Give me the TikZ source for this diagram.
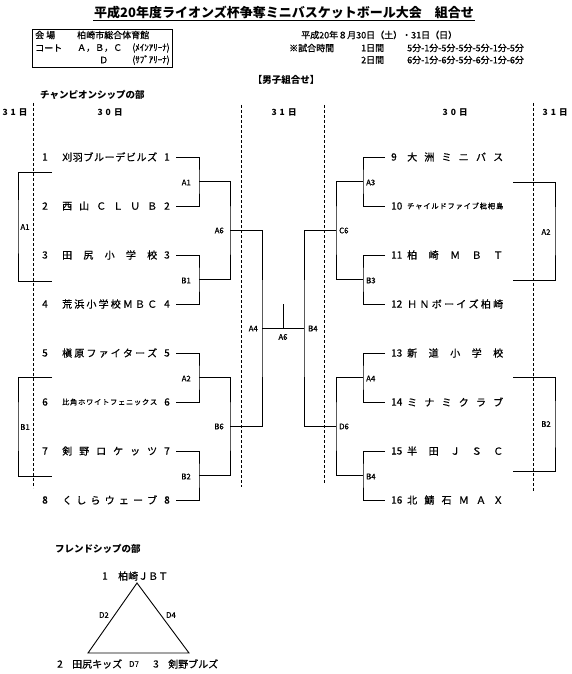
\documentclass[tikz,border=0pt]{standalone}
\usepackage{fontspec}
\setmainfont{Noto Sans CJK JP}
\newfontfamily\gothic{Noto Sans CJK JP}[FakeBold=0.8]
\usetikzlibrary{calc}

\newcommand\teamfont{\gothic\fontsize{10}{12}\selectfont}
\newcommand\tinyteam{\fontsize{7.2}{8}\selectfont}
\newcommand\codefont{\gothic\fontsize{7.8}{9}\selectfont}
\newcommand\infofont{\gothic\fontsize{9}{11}\selectfont}
\newcommand\spread[2][95pt]{{\spaceskip=0pt plus 1fil\makebox[#1][s]{#2}}}

\begin{document}
\begin{tikzpicture}[x=1pt,y=-1pt,
  team/.style={anchor=west,inner sep=0pt,font=\teamfont},
  num/.style={inner sep=0pt,font=\teamfont},
  code/.style={inner sep=0pt,font=\codefont},
  info/.style={anchor=west,inner sep=0pt,font=\infofont},
  head/.style={anchor=west,inner sep=0pt,font=\fontsize{9.5}{11}\selectfont\bfseries},
  day/.style={inner sep=0pt,font=\fontsize{8.5}{10}\selectfont\bfseries},
  dayline/.style={line width=0.7pt,dash pattern=on 3pt off 2pt},
  bracket/.style={line width=0.9pt}]
\useasboundingbox (0,0) rectangle (572,674);

% title, venue and times
\node[inner sep=1pt,font=\fontsize{13}{15}\selectfont\bfseries] (title) at (284,13)
  {平成20年度ライオンズ杯争奪ミニバスケットボール大会　組合せ};
\draw[line width=0.8pt] (title.south west) -- (title.south east);

\draw[line width=0.7pt] (32,29) rectangle (172,67);
\node[info] (hall) at (35,35) {会\ 場};
\node[info] (hallname) at (77,35) {柏崎市総合体育館};
\node[info] (court) at (35,48) {コート};
\node[info] (courtabc) at (77,48) {Ａ，Ｂ，Ｃ};
\node[info,anchor=east] (main) at (170,48) {(ﾒｲﾝｱﾘｰﾅ)};
\node[info] (courtd) at (99,60) {Ｄ};
\node[info,anchor=east] (sub) at (170,60) {(ｻﾌﾞｱﾘｰﾅ)};

\node[info] (date) at (301,35) {平成20年８月30日（土）・31日（日）};
\node[info] (timing) at (289,48) {※試合時間};
\node[info] (day1) at (361,48) {1日間};
\node[info] (time1) at (407,48) {5分-1分-5分-5分-5分-1分-5分};
\node[info] (day2) at (361,60) {2日間};
\node[info] (time2) at (407,60) {6分-1分-6分-5分-6分-1分-6分};

\node[head,anchor=center] (boys) at (286,80) {【男子組合せ】};
\node[head] (champ) at (40,95) {チャンピオンシップの部};

% days
\node[day] (d31a) at (15,112) {\makebox[25pt][s]{3 1 日}};
\node[day] (d30a) at (110,112) {\makebox[25pt][s]{3 0 日}};
\node[day] (d31b) at (284,112) {\makebox[25pt][s]{3 1 日}};
\node[day] (d30b) at (455,112) {\makebox[25pt][s]{3 0 日}};
\node[day] (d31c) at (555,112) {\makebox[25pt][s]{3 1 日}};
\draw[dayline] (33,103) -- (33,488);
\draw[dayline] (241,105) -- (241,487);
\draw[dayline] (324,105) -- (324,483);
\draw[dayline] (533,103) -- (533,492);

% teams
\foreach \name [count=\i] in {刈 羽 ブ ル ー デ ビ ル ズ, 西 山 Ｃ Ｌ Ｕ Ｂ, 田 尻 小 学 校,
    荒 浜 小 学 校 Ｍ Ｂ Ｃ, 槇 原 フ ァ イ タ ー ズ, \tinyteam 比 角 ホ ワ イ ト フ ェ ニ ッ ク ス,
    剣 野 ロ ケ ッ ツ, く し ら ウ ェ ー ブ} {
  \pgfmathsetmacro\y{108+49*\i}
  \node[num] (ln\i) at (45,\y) {\i};
  \node[team] (lt\i) at (62,\y) {\spread{\name}};
  \node[num] (le\i) at (167,\y) {\i};
  \coordinate (lx\i) at (176,\y);
}
\foreach \name [count=\i from 9] in {大 洲 ミ ニ バ ス, \tinyteam チ ャ イ ル ド フ ァ イ ブ 枇 杷 島,
    柏 崎 Ｍ Ｂ Ｔ, Ｈ Ｎ ボ ー イ ズ 柏 崎, 新 道 小 学 校, ミ ナ ミ ク ラ ブ,
    半 田 Ｊ Ｓ Ｃ, 北 鯖 石 Ｍ Ａ Ｘ} {
  \pgfmathsetmacro\y{108+49*(\i-8)}
  \node[num,anchor=west] (rn\i) at (391,\y) {\i};
  \node[team] (rt\i) at (407,\y) {\spread[96pt]{\name}};
  \coordinate (rx\i) at (385,\y);
}

% championship brackets
\foreach \k/\a/\b/\y in {1/1/2/181.5,2/3/4/279.5,3/5/6/377.5,4/7/8/475.5} {
  \coordinate (m\k) at (199,\y);
  \draw[bracket] (lx\a) -| (m\k) |- (lx\b);
}
\foreach \k/\a/\b/\y in {1/9/10/181.5,2/11/12/279.5,3/13/14/377.5,4/15/16/475.5} {
  \coordinate (r\k) at (363,\y);
  \draw[bracket] (rx\a) -| (r\k) |- (rx\b);
}
\coordinate (s1) at (230,230.5);
\coordinate (s2) at (230,426.5);
\coordinate (t1) at (336,230.5);
\coordinate (t2) at (336,426.5);
\draw[bracket] (m1) -| (s1) |- (m2);
\draw[bracket] (m3) -| (s2) |- (m4);
\draw[bracket] (r1) -| (t1) |- (r2);
\draw[bracket] (r3) -| (t2) |- (r4);
\coordinate (fl) at (262,328.5);
\coordinate (fr) at (304,328.5);
\draw[bracket] (s1) -| (fl) |- (s2);
\draw[bracket] (t1) -| (fr) |- (t2);
\draw[bracket] (fl) -- (fr);
\coordinate (tick) at (283,304);
\draw[bracket] (tick) -- (tick |- fl);

\foreach \k/\c in {1/A1,2/B1,3/A2,4/B2}
  \node[code,anchor=east] (lc\k) at ([xshift=-8pt,yshift=-1pt]m\k) {\c};
\foreach \k/\c in {1/A3,2/B3,3/A4,4/B4}
  \node[code,anchor=west] (rc\k) at ([xshift=3pt,yshift=-1pt]r\k) {\c};
\node[code,anchor=east] (ls1) at ([xshift=-6pt]s1) {A6};
\node[code,anchor=east] (ls2) at ([xshift=-6pt]s2) {B6};
\node[code,anchor=west] (rs1) at ([xshift=3pt]t1) {C6};
\node[code,anchor=west] (rs2) at ([xshift=3pt]t2) {D6};
\node[code,anchor=east] (lf) at ([xshift=-4pt]fl) {A4};
\node[code,anchor=west] (rf) at ([xshift=4pt]fr) {B4};
\node[code] (final) at (283,337) {A6};

% day 31 play-offs
\coordinate (oA1) at (18,226.5);
\coordinate (oB1) at (18,426.5);
\coordinate (oA2) at (555,231);
\coordinate (oB2) at (555,424);
\draw[bracket] (52,172) -| (oA1) |- (52,281);
\draw[bracket] (52,377) -| (oB1) |- (52,476);
\draw[bracket] (513,182) -| (oA2) |- (513,280);
\draw[bracket] (513,377) -| (oB2) |- (513,471);
\node[code] (cA1) at (25,227) {A1};
\node[code] (cB1) at (25,427) {B1};
\node[code] (cA2) at (546,232) {A2};
\node[code] (cB2) at (546,424) {B2};

% friendship
\node[head] (friend) at (55,549) {フレンドシップの部};
\coordinate (f1) at (137,583);
\coordinate (f2) at (88,653);
\coordinate (f3) at (189,653);
\draw[bracket] (f1) -- (f2) -- (f3) -- cycle;
\node[num] (fn1) at (105,576) {1};
\node[team] (ft1) at (118,576) {柏崎ＪＢＴ};
\node[num] (fn2) at (60,664) {2};
\node[team] (ft2) at (72,664) {田尻キッズ};
\node[num] (fn3) at (156,664) {3};
\node[team] (ft3) at (168,664) {剣野ブルズ};
\node[code] (fD2) at (104,615) {D2};
\node[code] (fD4) at (171,615) {D4};
\node[code] (fD7) at (134,664) {D7};
\end{tikzpicture}
\end{document}
